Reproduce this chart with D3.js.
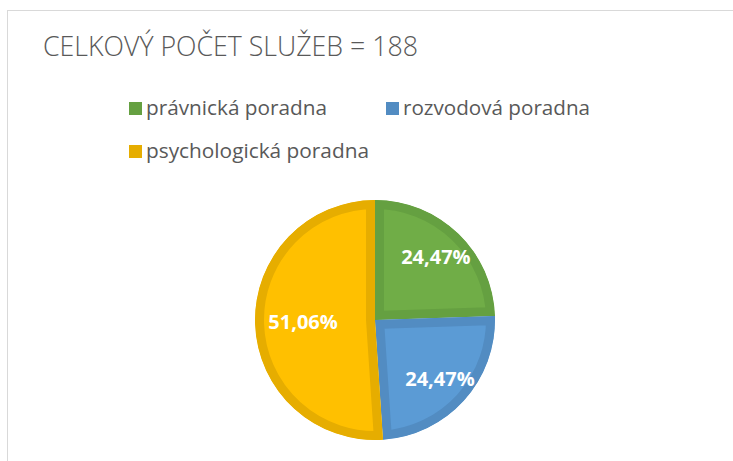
<!DOCTYPE html>
<html lang="cs">
<head>
    <meta charset="UTF-8">
    <title>Celkový počet služeb</title>
    <script src="https://d3js.org/d3.v7.min.js"></script>
    <style>
    body { margin: 0; background: #fff; }
    svg { display: block; }
    .title { font: 300 27px "Open Sans", sans-serif; fill: #595959; }
    .legend text { font: 20px "Open Sans", sans-serif; fill: #595959; }
    .lbl { font: bold 20px "Open Sans", sans-serif; fill: #fff; }
    </style>
</head>
<body>
<svg id="chart"></svg>
<script>
    // chart data
    const categories = ["právnická poradna", "rozvodová poradna", "psychologická poradna"];
    const counts = [46, 46, 96];
    const labels = ["24,47%", "24,47%", "51,06%"];
    const fills = ["#70AD47", "#5B9BD5", "#FFC000"];
    const edges = ["#65A041", "#528CC2", "#E6AD00"];
    const titleText = "CELKOVÝ POČET SLUŽEB = 188";

    const W = 733, H = 461;
    const svg = d3.select("#chart").attr("width", W).attr("height", H);

    // chart area frame (runs off right / bottom edge)
    svg.append("rect")
        .attr("x", 7.5).attr("y", 10.5)
        .attr("width", W + 20).attr("height", H + 20)
        .attr("fill", "#fff")
        .attr("stroke", "#d9d9d9");

    svg.append("text")
        .attr("class", "title")
        .attr("x", 43).attr("y", 56)
        .attr("textLength", 375)
        .attr("lengthAdjust", "spacingAndGlyphs")
        .text(titleText);

    // legend
    const legendPos = [[129, 115], [386, 115], [129, 158]];
    const legendW = [181, 187, 223];
    const legend = svg.append("g").attr("class", "legend");
    categories.forEach((c, i) => {
        const [lx, ly] = legendPos[i];
        legend.append("rect")
            .attr("x", lx).attr("y", ly - 13)
            .attr("width", 13).attr("height", 13)
            .attr("fill", edges[i]);
        legend.append("text")
            .attr("x", lx + 17).attr("y", ly)
            .attr("textLength", legendW[i])
            .attr("lengthAdjust", "spacingAndGlyphs")
            .text(c);
    });

    // pie
    const cx = 375, cy = 320, R = 120;
    const total = d3.sum(counts);
    const pie = d3.pie().sort(null)(counts);
    const arc = d3.arc().innerRadius(0).outerRadius(R);

    const g = svg.append("g").attr("transform", `translate(${cx},${cy})`);
    const defs = svg.append("defs");

    pie.forEach((d, i) => {
        defs.append("clipPath").attr("id", "clip" + i)
            .append("path").attr("d", arc(d));
        g.append("path")
            .attr("d", arc(d))
            .attr("fill", fills[i])
            .attr("stroke", edges[i])
            .attr("stroke-width", 18)
            .attr("stroke-linejoin", "miter")
            .attr("clip-path", `url(#clip${i})`);
    });

    // data labels
    pie.forEach((d, i) => {
        const a = (d.startAngle + d.endAngle) / 2;
        const r = d.data / total > 0.5 ? 0.6 * R : 0.73 * R;
        g.append("text")
            .attr("class", "lbl")
            .attr("x", r * Math.sin(a))
            .attr("y", -r * Math.cos(a))
            .attr("dy", "0.35em")
            .attr("text-anchor", "middle")
            .text(labels[i]);
    });
</script>
</body>
</html>
